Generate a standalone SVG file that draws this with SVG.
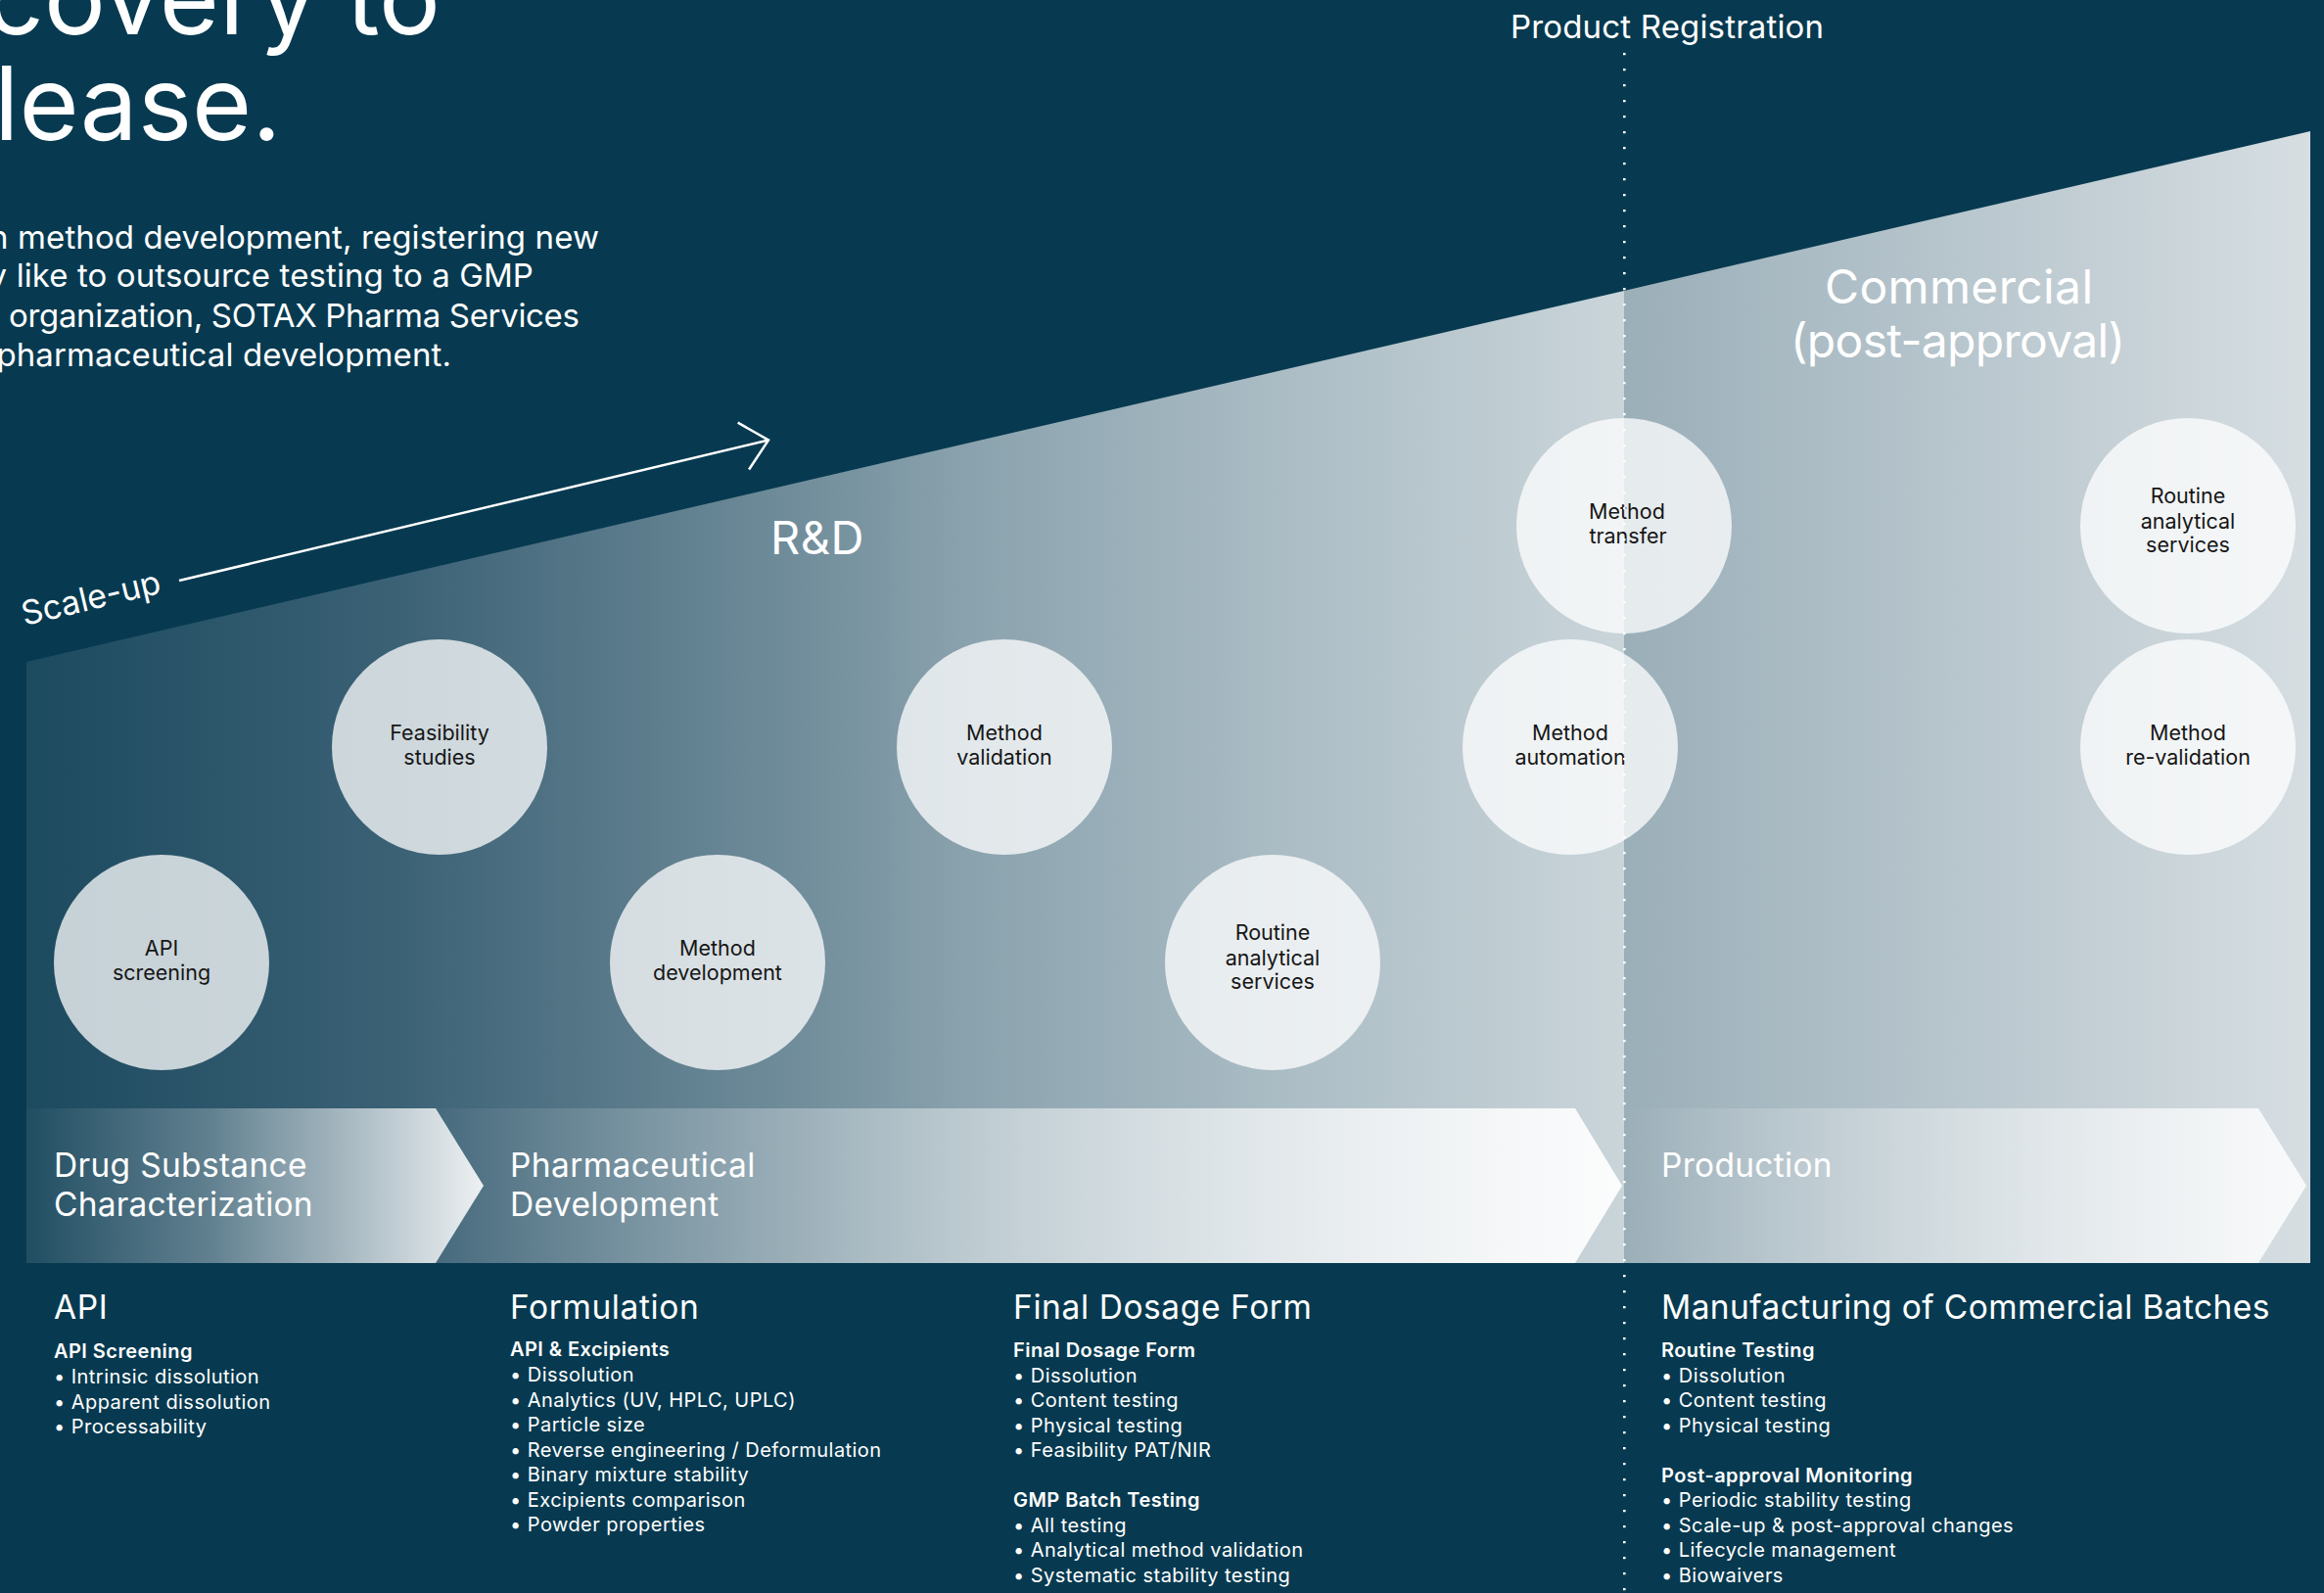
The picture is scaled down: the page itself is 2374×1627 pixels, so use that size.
<svg xmlns="http://www.w3.org/2000/svg" width="2374" height="1627" viewBox="0 0 2374 1627">
  <defs>
    <style>
      .t { font-family: Inter, "Liberation Sans", "DejaVu Sans", sans-serif; fill: #ffffff; }
      .title { font-size: 105px; }
      .para { font-size: 33px; letter-spacing: 0.1px; text-anchor: end; }
      .stage { font-size: 47px; letter-spacing: 0.5px; }
      .reg { font-size: 33px; }
      .phase { font-size: 33.5px; letter-spacing: 0.4px; }
      .sec { font-size: 33.5px; letter-spacing: 0.6px; }
      .sub { font-size: 20px; font-weight: 600; letter-spacing: 0.45px; }
      .item { font-size: 20px; letter-spacing: 0.45px; }
      .node circle { fill: #ffffff; fill-opacity: 0.75; }
      .node text { font-family: Inter, "Liberation Sans", "DejaVu Sans", sans-serif; font-size: 21.5px; fill: #161616; text-anchor: middle; }
      .arrow { fill: none; stroke: #ffffff; stroke-width: 2.5; }
      .milestone { stroke: #ffffff; stroke-width: 2.6; stroke-dasharray: 2.2 13.8; }
    </style>
    <!-- R&D part of the funnel, dark to light -->
    <linearGradient id="gRD" gradientUnits="userSpaceOnUse" x1="27" y1="0" x2="1659" y2="0">
      <stop offset="0" stop-color="#1c4a5f"/>
      <stop offset="0.23" stop-color="#3b6175"/>
      <stop offset="0.47" stop-color="#6e8b99"/>
      <stop offset="0.6" stop-color="#8ca4af"/>
      <stop offset="0.8" stop-color="#adbec6"/>
      <stop offset="1" stop-color="#cad5da"/>
    </linearGradient>
    <!-- commercial part of the funnel -->
    <linearGradient id="gCom" gradientUnits="userSpaceOnUse" x1="1659" y1="0" x2="2360" y2="0">
      <stop offset="0" stop-color="#9bafb9"/>
      <stop offset="1" stop-color="#d6dee2"/>
    </linearGradient>
    <!-- phase chevrons: white fading in from the left -->
    <linearGradient id="gCh1" gradientUnits="userSpaceOnUse" x1="27" y1="0" x2="494" y2="0">
      <stop offset="0" stop-color="#ffffff" stop-opacity="0.02"/>
      <stop offset="0.4" stop-color="#ffffff" stop-opacity="0.25"/>
      <stop offset="0.7" stop-color="#ffffff" stop-opacity="0.56"/>
      <stop offset="1" stop-color="#ffffff" stop-opacity="0.9"/>
    </linearGradient>
    <linearGradient id="gCh2" gradientUnits="userSpaceOnUse" x1="445" y1="0" x2="1657" y2="0">
      <stop offset="0" stop-color="#ffffff" stop-opacity="0.03"/>
      <stop offset="1" stop-color="#ffffff" stop-opacity="0.93"/>
    </linearGradient>
    <linearGradient id="gCh3" gradientUnits="userSpaceOnUse" x1="1659" y1="0" x2="2356" y2="0">
      <stop offset="0" stop-color="#ffffff" stop-opacity="0"/>
      <stop offset="1" stop-color="#ffffff" stop-opacity="0.85"/>
    </linearGradient>
    <marker id="openHead" markerUnits="userSpaceOnUse" viewBox="-30 -28 34 56" markerWidth="34" markerHeight="56" refX="0" refY="0" orient="auto" overflow="visible">
      <path d="M-26.3,-24.6 L0,0 L-26.3,24.6" fill="none" stroke="#ffffff" stroke-width="2.5"/>
    </marker>
  </defs>

  <!-- page background -->
  <rect x="0" y="0" width="2374" height="1627" fill="#073a50"/>

  <!-- heading and intro copy -->
  <g id="heading">
    <text class="t title" x="450" y="35" text-anchor="end">covery to</text>
    <text class="t title" x="-6" y="143">lease.</text>
    <text class="t para" x="612" y="254">n method development, registering new</text>
    <text class="t para" x="545" y="293">y like to outsource testing to a GMP</text>
    <text class="t para" x="592" y="334" textLength="583">organization, SOTAX Pharma Services</text>
    <text class="t para" x="461" y="374">pharmaceutical development.</text>
  </g>

  <!-- funnel: R&D and commercial areas -->
  <g id="funnel">
    <polygon points="27,676 1659,296.9 1659,1290 27,1290" fill="url(#gRD)"/>
    <polygon points="1659,296.9 2360,134 2360,1290 1659,1290" fill="url(#gCom)"/>
  </g>

  <!-- stage labels -->
  <g id="stages">
    <text class="t stage" x="787" y="566">R&amp;D</text>
    <text class="t" x="2001" y="310" text-anchor="middle" font-size="48" textLength="274">Commercial</text>
    <text class="t" x="2000" y="365" text-anchor="middle" font-size="48" textLength="342">(post-approval)</text>
    <text class="t reg" x="1543" y="39" textLength="320">Product Registration</text>
    <text class="t" x="0" y="0" font-size="34" textLength="145" transform="translate(25,639) rotate(-13.4)">Scale-up</text>
  </g>

  <!-- service nodes -->
  <g id="node-api-screening" class="node">
    <circle cx="165" cy="983" r="110"/>
    <text x="165" y="976">API</text>
    <text x="165" y="1001">screening</text>
  </g>
  <g id="node-feasibility-studies" class="node">
    <circle cx="449" cy="763" r="110"/>
    <text x="449" y="756">Feasibility</text>
    <text x="449" y="781">studies</text>
  </g>
  <g id="node-method-development" class="node">
    <circle cx="733" cy="983" r="110"/>
    <text x="733" y="976">Method</text>
    <text x="733" y="1001">development</text>
  </g>
  <g id="node-method-validation" class="node">
    <circle cx="1026" cy="763" r="110"/>
    <text x="1026" y="756">Method</text>
    <text x="1026" y="781">validation</text>
  </g>
  <g id="node-routine-rd" class="node">
    <circle cx="1300" cy="983" r="110"/>
    <text x="1300" y="960">Routine</text>
    <text x="1300" y="985.5">analytical</text>
    <text x="1300" y="1010">services</text>
  </g>
  <g id="node-method-automation" class="node">
    <circle cx="1604" cy="763" r="110"/>
    <text x="1604" y="756">Method</text>
    <text x="1604" y="781">automation</text>
  </g>
  <g id="node-method-transfer" class="node">
    <circle cx="1659" cy="537" r="110"/>
    <text x="1662" y="530">Method</text>
    <text x="1663" y="555">transfer</text>
  </g>
  <g id="node-routine-commercial" class="node">
    <circle cx="2235" cy="537" r="110"/>
    <text x="2235" y="514">Routine</text>
    <text x="2235" y="539.5">analytical</text>
    <text x="2235" y="564">services</text>
  </g>
  <g id="node-method-revalidation" class="node">
    <circle cx="2235" cy="763" r="110"/>
    <text x="2235" y="756">Method</text>
    <text x="2235" y="781">re-validation</text>
  </g>

  <!-- phase chevrons -->
  <g id="phase-pharmaceutical-development">
    <polygon points="445,1132 1609,1132 1657,1211 1609,1290 445,1290 494,1211" fill="url(#gCh2)"/>
    <text class="t phase" x="521" y="1202">Pharmaceutical</text>
    <text class="t phase" x="521" y="1242">Development</text>
  </g>
  <g id="phase-drug-substance">
    <polygon points="27,1132 445,1132 494,1211 445,1290 27,1290" fill="url(#gCh1)"/>
    <text class="t phase" x="55" y="1202" textLength="259">Drug Substance</text>
    <text class="t phase" x="55" y="1242" textLength="265">Characterization</text>
  </g>
  <g id="phase-production">
    <polygon points="1659,1132 2307,1132 2356,1211 2307,1290 1659,1290" fill="url(#gCh3)"/>
    <text class="t phase" x="1697" y="1202" textLength="175">Production</text>
  </g>

  <!-- scale-up arrow and registration milestone -->
  <g id="connectors">
    <line class="arrow" x1="183" y1="593" x2="785" y2="449.5" marker-end="url(#openHead)"/>
    <line class="milestone" x1="1659.3" y1="54" x2="1659.3" y2="1627"/>
  </g>

  <!-- service lists per phase -->
  <g id="list-api">
    <text class="t sec" x="55" y="1347">API</text>
    <text class="t sub" x="55" y="1387">API Screening</text>
    <text class="t item" x="55" y="1413">• Intrinsic dissolution</text>
    <text class="t item" x="55" y="1438.5">• Apparent dissolution</text>
    <text class="t item" x="55" y="1464">• Processability</text>
  </g>
  <g id="list-formulation">
    <text class="t sec" x="521" y="1347">Formulation</text>
    <text class="t sub" x="521" y="1385">API &amp; Excipients</text>
    <text class="t item" x="521" y="1411">• Dissolution</text>
    <text class="t item" x="521" y="1436.5">• Analytics (UV, HPLC, UPLC)</text>
    <text class="t item" x="521" y="1462">• Particle size</text>
    <text class="t item" x="521" y="1487.5">• Reverse engineering / Deformulation</text>
    <text class="t item" x="521" y="1513">• Binary mixture stability</text>
    <text class="t item" x="521" y="1538.5">• Excipients comparison</text>
    <text class="t item" x="521" y="1564">• Powder properties</text>
  </g>
  <g id="list-final-dosage-form">
    <text class="t sec" x="1035" y="1347">Final Dosage Form</text>
    <text class="t sub" x="1035" y="1385.5">Final Dosage Form</text>
    <text class="t item" x="1035" y="1411.5">• Dissolution</text>
    <text class="t item" x="1035" y="1437">• Content testing</text>
    <text class="t item" x="1035" y="1462.5">• Physical testing</text>
    <text class="t item" x="1035" y="1488">• Feasibility PAT/NIR</text>
    <text class="t sub" x="1035" y="1539">GMP Batch Testing</text>
    <text class="t item" x="1035" y="1564.5">• All testing</text>
    <text class="t item" x="1035" y="1590">• Analytical method validation</text>
    <text class="t item" x="1035" y="1615.5">• Systematic stability testing</text>
  </g>
  <g id="list-commercial-batches">
    <text class="t sec" x="1697" y="1347" textLength="622">Manufacturing of Commercial Batches</text>
    <text class="t sub" x="1697" y="1386">Routine Testing</text>
    <text class="t item" x="1697" y="1411.5">• Dissolution</text>
    <text class="t item" x="1697" y="1437">• Content testing</text>
    <text class="t item" x="1697" y="1462.5">• Physical testing</text>
    <text class="t sub" x="1697" y="1513.5">Post-approval Monitoring</text>
    <text class="t item" x="1697" y="1539">• Periodic stability testing</text>
    <text class="t item" x="1697" y="1564.5">• Scale-up &amp; post-approval changes</text>
    <text class="t item" x="1697" y="1590">• Lifecycle management</text>
    <text class="t item" x="1697" y="1615.5">• Biowaivers</text>
  </g>
</svg>
